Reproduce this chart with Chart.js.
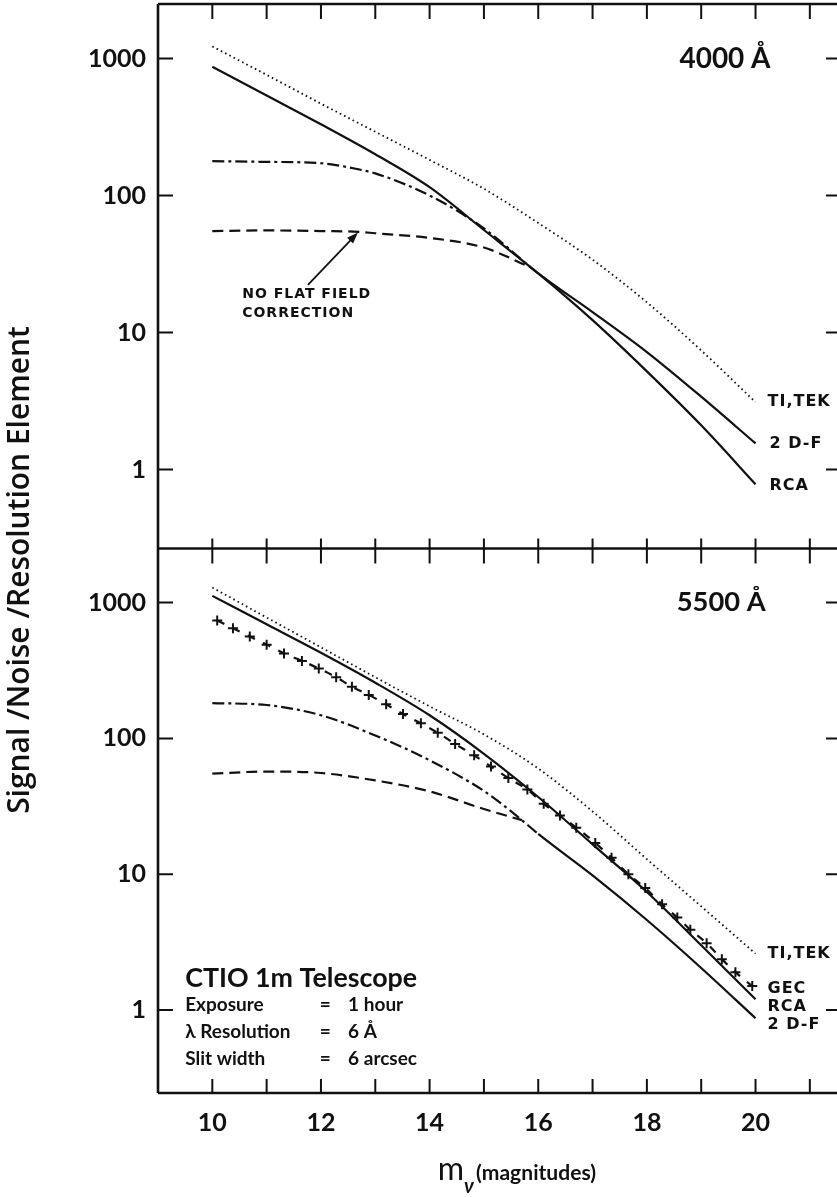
<!DOCTYPE html>
<html>
<head>
<meta charset="utf-8">
<script src="https://cdn.jsdelivr.net/npm/chart.js@4.4.1/dist/chart.umd.min.js"></script>
<style>
  html, body { margin: 0; padding: 0; background: #fff; overflow: hidden; }
</style>
</head>
<body>
<canvas id="chart" width="837" height="1198"></canvas>
<script>
// valeurs : S/N par élément de résolution en fonction de m_v
const mags = [10, 11, 12, 13, 14, 15, 16, 17, 18, 19, 20];

// panneau 4000 Å
const tiTek4000 = [1225, 760, 468, 292, 182, 112, 63, 34, 16.6, 7.4, 3.1];
const rca4000 = [871, 537, 331, 200, 115, 56, 27, 12.3, 5.2, 2.1, 0.78];
const twoDF4000Mags = [10, 11, 12, 12.7, 13, 14, 15, 16, 17, 18, 19, 20];
const twoDF4000 = [178, 176, 172, 155, 145, 100, 57.5, 27, 14.1, 7.2, 3.4, 1.55];
const noFlat4000Mags = [10, 11, 12, 12.7, 13, 14, 15, 15.85];
const noFlat4000 = [55, 55.6, 55, 54.3, 53, 49, 41.7, 30];

// panneau 5500 Å
const tiTek5500 = [1290, 776, 468, 282, 172, 107, 60, 29, 12.9, 5.8, 2.6];
const rca5500 = [1120, 692, 427, 257, 148, 77, 37, 16.6, 7.4, 3.0, 1.2];
const gec5500Mags = [10.09, 10.38, 10.69, 11.0, 11.32, 11.65, 11.96, 12.28, 12.57, 12.88, 13.2,
  13.51, 13.84, 14.15, 14.47, 14.82, 15.13, 15.45, 15.8, 16.1, 16.4, 16.7, 17.05,
  17.35, 17.66, 17.97, 18.28, 18.56, 18.8, 19.1, 19.38, 19.63, 19.94];
const gec5500 = [738, 646, 562, 490, 422, 372, 327, 282, 240, 209, 178,
  151, 129, 110, 91, 75, 62, 51, 42, 33, 27, 22, 17,
  13.2, 10, 7.9, 6.0, 4.8, 3.9, 3.1, 2.37, 1.9, 1.5];
const twoDF5500Mags = [10, 11, 12, 13, 14, 15, 15.7, 16, 17, 18, 19, 20];
const twoDF5500 = [182, 176, 148, 105, 69, 41, 25, 19.8, 9.8, 4.6, 2.04, 0.87];
const noFlat5500Mags = [10, 11, 12, 13, 14, 15, 15.7];
const noFlat5500 = [55, 57, 55.6, 49, 40.7, 30.2, 25];

// axes
const xTickLabels = [10, 12, 14, 16, 18, 20];
const xMinorTicks = [10, 11, 12, 13, 14, 15, 16, 17, 18, 19, 20, 21];
const yTickValues = [1, 10, 100, 1000];

const INK = '#111';
const FONT = 'Lato, "DejaVu Sans", sans-serif';
const LABEL_FONT = '"DejaVu Sans", sans-serif';
const TITLE_FONT = '"Open Sans", "DejaVu Sans", sans-serif';

function pts(xs, ys) {
    return xs.map((x, i) => ({x: x, y: ys[i]}));
}

function curve(label, xs, ys, axis, extra) {
    return Object.assign({
        label: label,
        data: pts(xs, ys),
        yAxisID: axis,
        borderColor: INK,
        borderWidth: 2.2,
        pointRadius: 0,
        pointHoverRadius: 0,
        fill: false,
        cubicInterpolationMode: 'monotone'
    }, extra || {});
}

const dotted = {borderWidth: 1.8, borderDash: [1.6, 3.2]};
const dashed = {borderDash: [11, 6]};
// tirets-points jusqu'à m = 16, trait plein ensuite
const dashDotThenSolid = {
    segment: {borderDash: ctx => ctx.p0.parsed.x < 16 ? [12, 4, 3, 4] : undefined}
};

function textAt(ctx, str, x, y, font, align) {
    ctx.font = font;
    ctx.textAlign = align || 'left';
    ctx.textBaseline = 'middle';
    ctx.fillText(str, x, y);
}

// texte ajusté à une largeur donnée
function fitText(ctx, str, x, y, family, weight, width, align) {
    ctx.font = weight + ' 20px ' + family;
    const size = 20 * width / ctx.measureText(str).width;
    textAt(ctx, str, x, y, weight + ' ' + size.toFixed(2) + 'px ' + family, align);
}

const decor = {
    id: 'decor',
    afterDraw(chart) {
        const {ctx, chartArea: a, scales} = chart;
        const xs = scales.x, yT = scales.yTop, yB = scales.yBot;
        ctx.save();
        ctx.strokeStyle = INK;
        ctx.fillStyle = INK;

        // cadre
        ctx.lineWidth = 2.6;
        ctx.beginPath();
        ctx.moveTo(a.left, a.top); ctx.lineTo(a.left, a.bottom);
        ctx.moveTo(a.left, a.top); ctx.lineTo(a.right, a.top);
        ctx.moveTo(a.left, yT.bottom); ctx.lineTo(a.right, yT.bottom);
        ctx.moveTo(a.left, a.bottom); ctx.lineTo(a.right, a.bottom);
        ctx.stroke();

        // graduations vers l'intérieur
        ctx.lineWidth = 2;
        ctx.beginPath();
        xMinorTicks.forEach(m => {
            const px = xs.getPixelForValue(m);
            ctx.moveTo(px, a.top); ctx.lineTo(px, a.top + 15);
            ctx.moveTo(px, yT.bottom); ctx.lineTo(px, yT.bottom - 10);
            ctx.moveTo(px, yB.top); ctx.lineTo(px, yB.top + 15);
            ctx.moveTo(px, a.bottom); ctx.lineTo(px, a.bottom - 14);
        });
        [yT, yB].forEach(s => yTickValues.forEach(v => {
            const py = s.getPixelForValue(v);
            ctx.moveTo(a.left, py); ctx.lineTo(a.left + 15, py);
            ctx.moveTo(a.right, py); ctx.lineTo(a.right - 11, py);
        }));
        ctx.stroke();

        const X = m => xs.getPixelForValue(m);
        const lab = 'bold 16px ' + LABEL_FONT;
        const last = arr => arr[arr.length - 1];

        // titres des panneaux
        fitText(ctx, '4000 Å', X(18.6), yT.getPixelForValue(1000), FONT, 'bold', 91);
        fitText(ctx, '5500 Å', X(18.55), yB.getPixelForValue(1000), FONT, 'bold', 89);

        // étiquettes des courbes
        const lx = X(20) + 12;
        ctx.letterSpacing = '1px';
        textAt(ctx, 'TI,TEK', lx, yT.getPixelForValue(last(tiTek4000)), lab);
        textAt(ctx, '2 D-F', lx + 2, yT.getPixelForValue(last(twoDF4000)), lab);
        textAt(ctx, 'RCA', lx + 2, yT.getPixelForValue(last(rca4000)) + 2, lab);
        textAt(ctx, 'TI,TEK', lx, yB.getPixelForValue(last(tiTek5500)), lab);
        textAt(ctx, 'GEC', lx, yB.getPixelForValue(last(gec5500)) + 3, lab);
        textAt(ctx, 'RCA', lx, yB.getPixelForValue(last(rca5500)) + 8, lab);
        textAt(ctx, '2 D-F', lx, yB.getPixelForValue(last(twoDF5500)) + 7, lab);

        // note « no flat field » avec flèche
        const nf = 'bold 14px ' + LABEL_FONT;
        textAt(ctx, 'NO FLAT FIELD', X(10.55), yT.getPixelForValue(18.9), nf);
        textAt(ctx, 'CORRECTION', X(10.55), yT.getPixelForValue(13.9), nf);
        ctx.letterSpacing = '0px';
        const x0 = X(11.76), y0 = yT.getPixelForValue(22.3);
        const x1 = X(12.68), y1 = yT.getPixelForValue(53.7);
        const ang = Math.atan2(y1 - y0, x1 - x0);
        ctx.lineWidth = 1.8;
        ctx.beginPath();
        ctx.moveTo(x0, y0); ctx.lineTo(x1 - 8 * Math.cos(ang), y1 - 8 * Math.sin(ang));
        ctx.stroke();
        ctx.beginPath();
        ctx.moveTo(x1, y1);
        ctx.lineTo(x1 - 12 * Math.cos(ang - 0.35), y1 - 12 * Math.sin(ang - 0.35));
        ctx.lineTo(x1 - 12 * Math.cos(ang + 0.35), y1 - 12 * Math.sin(ang + 0.35));
        ctx.closePath();
        ctx.fill();

        // bloc d'informations
        fitText(ctx, 'CTIO 1m Telescope', X(9.5), yB.getPixelForValue(1.72), FONT, 'bold', 232);
        const inf = 'bold 19px ' + FONT;
        const rows = [['Exposure', '1 hour', 1.09], ['λ Resolution', '6 Å', 0.69], ['Slit width', '6 arcsec', 0.44]];
        rows.forEach(r => {
            const py = yB.getPixelForValue(r[2]);
            textAt(ctx, r[0], X(9.5), py, inf);
            textAt(ctx, '=', X(11.98), py, inf);
            textAt(ctx, r[1], X(12.5), py, inf);
        });

        // titres des axes
        ctx.save();
        ctx.translate(20, 570);
        ctx.rotate(-Math.PI / 2);
        fitText(ctx, 'Signal /Noise /Resolution Element', 0, 0, TITLE_FONT, '600', 488, 'center');
        ctx.restore();
        const mx = X(14.15);
        textAt(ctx, 'm', mx, 1170, '32px ' + FONT);
        ctx.font = '32px ' + FONT;
        const mw = ctx.measureText('m').width;
        textAt(ctx, 'ν', mx + mw, 1187, 'italic bold 20px ' + FONT);
        fitText(ctx, '(magnitudes)', mx + mw + 12, 1173, FONT, 'bold', 120);

        ctx.restore();
    }
};

function yAxis(min, weight) {
    return {
        type: 'logarithmic',
        position: 'left',
        stack: 'panels',
        stackWeight: 1,
        weight: weight,
        min: min,
        max: 2500,
        grid: {display: false, drawTicks: false},
        border: {display: false},
        afterBuildTicks: s => { s.ticks = yTickValues.map(v => ({value: v})); },
        afterFit: s => { s.width = 158; s.paddingTop = 0; s.paddingBottom = 0; },
        ticks: {
            color: INK,
            font: {family: FONT, size: 25, weight: 'bold'},
            padding: 12,
            callback: v => String(v)
        }
    };
}

new Chart(document.getElementById('chart').getContext('2d'), {
    type: 'line',
    data: {
        datasets: [
            curve('TI,TEK 4000', mags, tiTek4000, 'yTop', dotted),
            curve('RCA 4000', mags, rca4000, 'yTop'),
            curve('2D-F 4000', twoDF4000Mags, twoDF4000, 'yTop', dashDotThenSolid),
            curve('No flat field 4000', noFlat4000Mags, noFlat4000, 'yTop', dashed),
            curve('TI,TEK 5500', mags, tiTek5500, 'yBot', dotted),
            curve('RCA 5500', mags, rca5500, 'yBot'),
            curve('GEC 5500', gec5500Mags, gec5500, 'yBot', {
                borderDash: [8, 9],
                pointStyle: 'cross',
                pointRadius: 5,
                pointBorderWidth: 2,
                pointBorderColor: INK
            }),
            curve('2D-F 5500', twoDF5500Mags, twoDF5500, 'yBot', dashDotThenSolid),
            curve('No flat field 5500', noFlat5500Mags, noFlat5500, 'yBot', dashed)
        ]
    },
    options: {
        responsive: false,
        devicePixelRatio: 1,
        animation: false,
        events: [],
        layout: {autoPadding: false, padding: {top: 4, left: 0, right: 0, bottom: 0}},
        plugins: {
            legend: {display: false},
            tooltip: {enabled: false}
        },
        scales: {
            x: {
                type: 'linear',
                min: 9,
                max: 21.5,
                position: 'bottom',
                grid: {display: false, drawTicks: false},
                border: {display: false},
                afterBuildTicks: s => { s.ticks = xTickLabels.map(v => ({value: v})); },
                afterFit: s => { s.height = 105; s.paddingLeft = 0; s.paddingRight = 0; },
                ticks: {
                    color: INK,
                    font: {family: FONT, size: 25, weight: 'bold'},
                    padding: 15,
                    maxRotation: 0,
                    autoSkip: false
                }
            },
            yTop: yAxis(0.265, 2),
            yBot: yAxis(0.245, 1)
        }
    },
    plugins: [decor]
});
</script>
</body>
</html>
